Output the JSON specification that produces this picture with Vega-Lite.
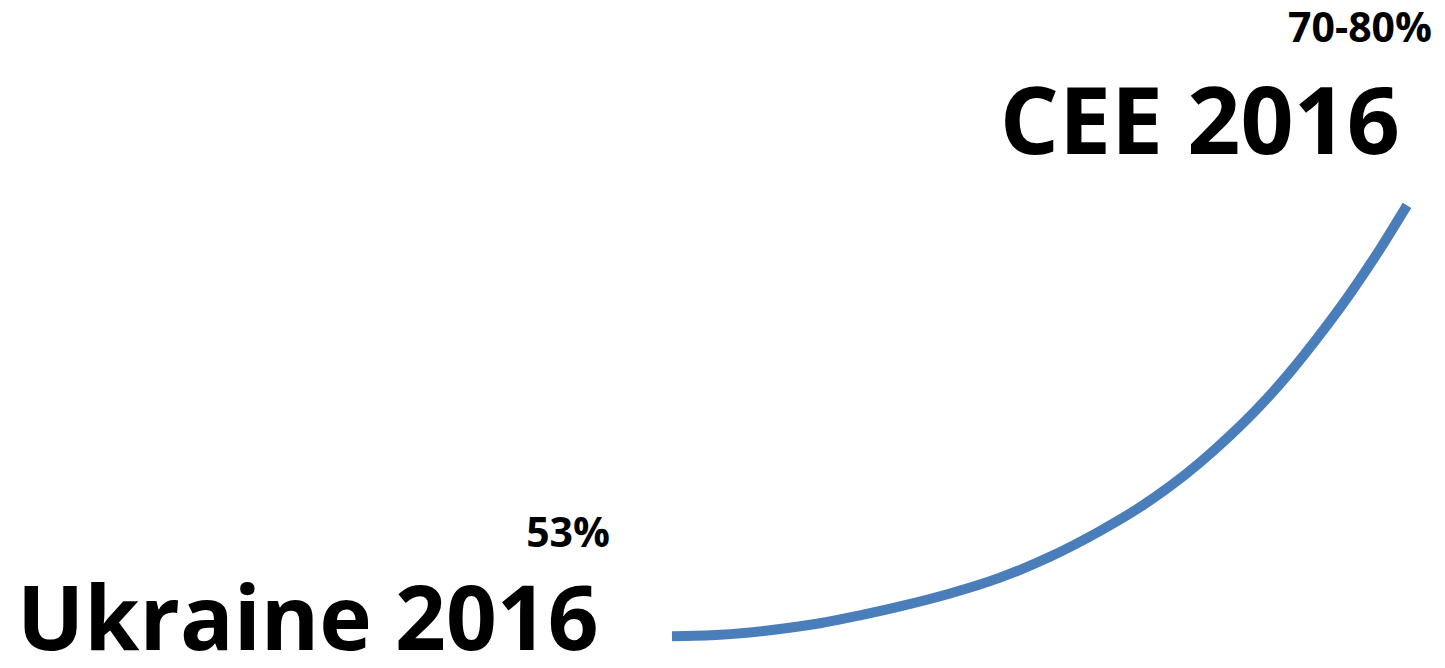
{
  "$schema": "https://vega.github.io/schema/vega-lite/v6.json",
  "width": 1445,
  "height": 668,
  "autosize": {"type": "fit", "contains": "padding"},
  "padding": 0,
  "background": "white",
  "config": {"view": {"stroke": null}},
  "datasets": {
    "curve": [
      {"x": 672, "y": 27}, {"x": 720, "y": 28.5}, {"x": 770, "y": 33}, {"x": 820, "y": 40},
      {"x": 860, "y": 48}, {"x": 900, "y": 57}, {"x": 950, "y": 70}, {"x": 1000, "y": 86},
      {"x": 1050, "y": 107}, {"x": 1100, "y": 133}, {"x": 1140, "y": 157}, {"x": 1170, "y": 178},
      {"x": 1200, "y": 202}, {"x": 1230, "y": 229}, {"x": 1260, "y": 259}, {"x": 1290, "y": 293},
      {"x": 1320, "y": 331}, {"x": 1350, "y": 372}, {"x": 1380, "y": 417}, {"x": 1407, "y": 461}
    ],
    "labels": [
      {"x": 17, "y": 13, "text": "Ukraine 2016", "kind": "ukr"},
      {"x": 1400, "y": 513, "text": "CEE 2016", "kind": "cee"},
      {"x": 610, "y": 117, "text": "53%", "kind": "small"},
      {"x": 1432, "y": 626, "text": "70-80%", "kind": "small"}
    ]
  },
  "layer": [
    {
      "data": {"name": "curve"},
      "mark": {"type": "line", "color": "#4a7ebb", "strokeWidth": 10, "interpolate": "monotone", "strokeCap": "butt"},
      "encoding": {
        "x": {"field": "x", "type": "quantitative", "scale": {"domain": [0, 1445], "nice": false, "zero": false}, "axis": null},
        "y": {"field": "y", "type": "quantitative", "scale": {"domain": [0, 668], "nice": false, "zero": false}, "axis": null}
      }
    },
    {
      "data": {"name": "labels"},
      "transform": [{"filter": "datum.kind === 'ukr'"}],
      "mark": {"type": "text", "font": "Open Sans", "fontWeight": "bold", "fontSize": 89, "align": "left", "baseline": "alphabetic", "color": "black"},
      "encoding": {
        "x": {"field": "x", "type": "quantitative"},
        "y": {"field": "y", "type": "quantitative"},
        "text": {"field": "text"}
      }
    },
    {
      "data": {"name": "labels"},
      "transform": [{"filter": "datum.kind === 'cee'"}],
      "mark": {"type": "text", "font": "Open Sans", "fontWeight": "bold", "fontSize": 93, "align": "right", "baseline": "alphabetic", "color": "black"},
      "encoding": {
        "x": {"field": "x", "type": "quantitative"},
        "y": {"field": "y", "type": "quantitative"},
        "text": {"field": "text"}
      }
    },
    {
      "data": {"name": "labels"},
      "transform": [{"filter": "datum.kind === 'small'"}],
      "mark": {"type": "text", "font": "Open Sans", "fontWeight": "bold", "fontSize": 41, "align": "right", "baseline": "alphabetic", "color": "black"},
      "encoding": {
        "x": {"field": "x", "type": "quantitative"},
        "y": {"field": "y", "type": "quantitative"},
        "text": {"field": "text"}
      }
    }
  ]
}
